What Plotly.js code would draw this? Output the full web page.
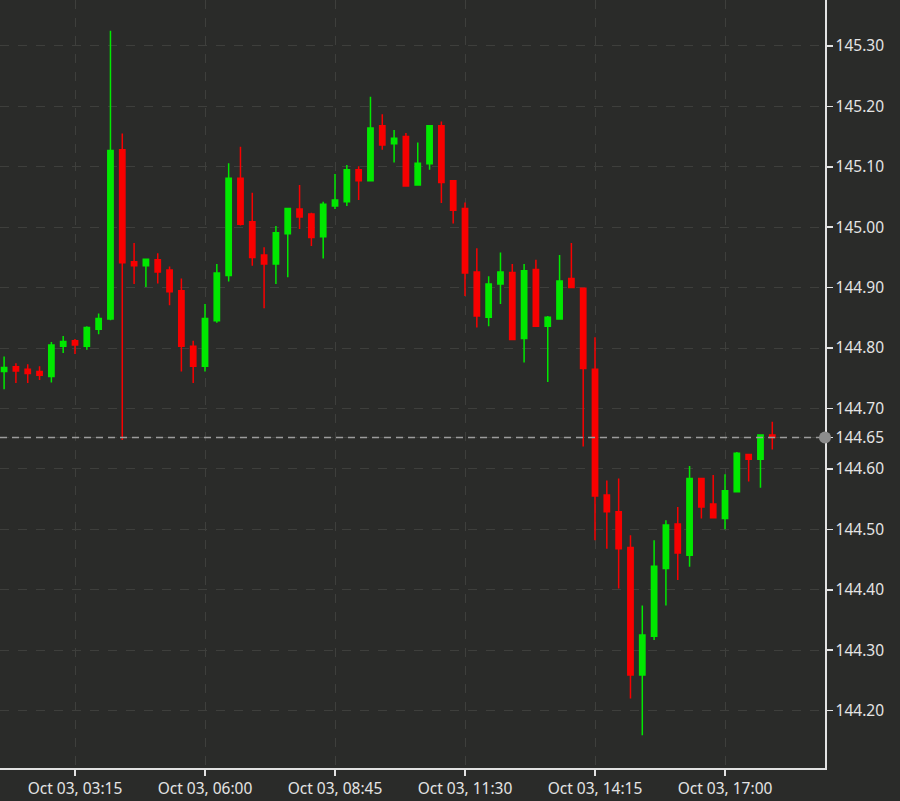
<!DOCTYPE html>
<html>
<head>
<meta charset="utf-8">
<script src="https://cdn.plot.ly/plotly-3.0.1.min.js"></script>
<style>
html,body{margin:0;padding:0;background:#2a2b29;}
#chart{width:900px;height:801px;}
</style>
</head>
<body>
<div id="chart"></div>
<script>
const times = [
 '2024-10-03 01:45','2024-10-03 02:00','2024-10-03 02:15','2024-10-03 02:30','2024-10-03 02:45','2024-10-03 03:00',
 '2024-10-03 03:15','2024-10-03 03:30','2024-10-03 03:45','2024-10-03 04:00','2024-10-03 04:15','2024-10-03 04:30',
 '2024-10-03 04:45','2024-10-03 05:00','2024-10-03 05:15','2024-10-03 05:30','2024-10-03 05:45','2024-10-03 06:00',
 '2024-10-03 06:15','2024-10-03 06:30','2024-10-03 06:45','2024-10-03 07:00','2024-10-03 07:15','2024-10-03 07:30',
 '2024-10-03 07:45','2024-10-03 08:00','2024-10-03 08:15','2024-10-03 08:30','2024-10-03 08:45','2024-10-03 09:00',
 '2024-10-03 09:15','2024-10-03 09:30','2024-10-03 09:45','2024-10-03 10:00','2024-10-03 10:15','2024-10-03 10:30',
 '2024-10-03 10:45','2024-10-03 11:00','2024-10-03 11:15','2024-10-03 11:30','2024-10-03 11:45','2024-10-03 12:00',
 '2024-10-03 12:15','2024-10-03 12:30','2024-10-03 12:45','2024-10-03 13:00','2024-10-03 13:15','2024-10-03 13:30',
 '2024-10-03 13:45','2024-10-03 14:00','2024-10-03 14:15','2024-10-03 14:30','2024-10-03 14:45','2024-10-03 15:00',
 '2024-10-03 15:15','2024-10-03 15:30','2024-10-03 15:45','2024-10-03 16:00','2024-10-03 16:15','2024-10-03 16:30',
 '2024-10-03 16:45','2024-10-03 17:00','2024-10-03 17:15','2024-10-03 17:30','2024-10-03 17:45','2024-10-03 18:00'
];
const openP = [
 144.761,144.769,144.765,144.761,144.753,144.803,144.812,144.803,144.831,144.848,145.128,144.943,
 144.936,144.946,144.929,144.895,144.803,144.770,144.845,144.920,145.081,145.009,144.954,144.939,
 144.989,145.030,145.022,144.984,145.035,145.042,145.095,145.077,145.168,145.138,145.150,145.070,
 145.105,145.168,145.077,145.031,144.926,144.851,144.906,144.925,144.816,144.930,144.836,144.848,
 144.915,144.899,144.765,144.557,144.529,144.470,144.259,144.323,144.435,144.509,144.457,144.584,
 144.542,144.518,144.562,144.624,144.616,144.656
];
const highP = [
 144.786,144.775,144.773,144.770,144.810,144.820,144.815,144.836,144.857,145.325,145.155,144.974,
 144.948,144.957,144.935,144.915,144.812,144.873,144.939,145.106,145.133,145.057,144.967,145.002,
 145.032,145.070,145.024,145.042,145.088,145.103,145.101,145.216,145.187,145.161,145.156,145.140,
 145.169,145.175,145.078,145.041,144.965,144.919,144.958,144.939,144.939,144.946,144.853,144.954,
 144.974,144.900,144.818,144.581,144.584,144.490,144.374,144.482,144.515,144.537,144.605,144.585,
 144.590,144.591,144.628,144.625,144.657,144.678
];
const lowP = [
 144.732,144.742,144.742,144.747,144.743,144.792,144.790,144.797,144.823,144.846,144.648,144.906,
 144.901,144.907,144.871,144.761,144.742,144.761,144.842,144.910,145.003,144.936,144.866,144.906,
 144.917,144.997,144.969,144.948,145.030,145.035,145.045,145.076,145.128,145.107,145.068,145.069,
 145.095,145.040,145.006,144.886,144.834,144.836,144.873,144.813,144.776,144.835,144.744,144.847,
 144.899,144.637,144.482,144.468,144.402,144.220,144.159,144.317,144.374,144.416,144.438,144.518,
 144.518,144.500,144.561,144.579,144.569,144.632
];
const closeP = [
 144.768,144.762,144.758,144.755,144.805,144.811,144.805,144.834,144.849,145.127,144.941,144.936,
 144.947,144.926,144.893,144.803,144.770,144.849,144.924,145.081,145.005,144.950,144.939,144.991,
 145.031,145.017,144.983,145.038,145.045,145.095,145.077,145.164,145.136,145.147,145.068,145.106,
 145.168,145.074,145.028,144.924,144.853,144.906,144.926,144.814,144.928,144.836,144.851,144.911,
 144.900,144.766,144.555,144.529,144.468,144.259,144.325,144.439,144.507,144.461,144.584,144.537,
 144.519,144.564,144.626,144.616,144.656,144.652
];
const priceTicks = [144.2,144.3,144.4,144.5,144.6,144.7,144.8,144.9,145.0,145.1,145.2,145.3];
const xTickStart = '2024-10-03 03:15';
const xTickStepMs = 165 * 60 * 1000;
const xRange = ['2024-10-03 01:39:48','2024-10-03 19:06:54'];
const yRange = [144.105, 145.376];

const lastClose = closeP[closeP.length - 1];
const bg = '#2a2b29';
const gridCol = '#3e3f3c';
const axisCol = '#e2e2e2';
const fontCfg = {family: '"Noto Sans", "Open Sans", sans-serif', size: 15.5, color: '#e4e4e4'};

const trace = {
  type: 'candlestick',
  x: times, open: openP, high: highP, low: lowP, close: closeP,
  increasing: {line: {color: '#00e800', width: 1.5}, fillcolor: '#00e800'},
  decreasing: {line: {color: '#f80000', width: 1.5}, fillcolor: '#f80000'},
  whiskerwidth: 0,
  hoverinfo: 'skip',
  showlegend: false
};

const layout = {
  width: 900, height: 801,
  margin: {l: 0, r: 75, t: 0, b: 33, pad: 0},
  paper_bgcolor: bg, plot_bgcolor: bg,
  font: fontCfg,
  boxgap: 0.36,
  showlegend: false,
  xaxis: {
    type: 'date', range: xRange,
    rangeslider: {visible: false},
    tick0: xTickStart, dtick: xTickStepMs, tickmode: 'linear',
    tickformat: '%b %d, %H:%M',
    ticks: 'outside', ticklen: 6, tickwidth: 1.5, tickcolor: axisCol,
    showline: true, linecolor: axisCol, linewidth: 1.5,
    showgrid: true, gridcolor: gridCol, griddash: 'dash', gridwidth: 1,
    zeroline: false, fixedrange: true, tickfont: fontCfg
  },
  yaxis: {
    side: 'right', range: yRange,
    tickmode: 'array', tickvals: priceTicks.concat([lastClose]), tickformat: '.2f',
    ticks: 'outside', ticklen: 6, tickwidth: 1.5, tickcolor: axisCol,
    showline: true, linecolor: axisCol, linewidth: 1.5,
    showgrid: true, gridcolor: gridCol, griddash: 'dash', gridwidth: 1,
    zeroline: false, fixedrange: true, tickfont: fontCfg
  },
  shapes: [
    {type: 'line', xref: 'paper', yref: 'y', x0: 0, x1: 1, y0: lastClose, y1: lastClose,
     line: {color: '#9c9c9c', width: 1.3, dash: '7px,5px'}, layer: 'above'},
    {type: 'circle', xref: 'paper', yref: 'y', xsizemode: 'pixel', ysizemode: 'pixel',
     xanchor: 1, yanchor: lastClose, x0: -6, x1: 6, y0: -6, y1: 6,
     fillcolor: '#8c8c8c', line: {color: '#8c8c8c', width: 0}, layer: 'above'}
  ]
};

Plotly.newPlot('chart', [trace], layout, {displayModeBar: false, staticPlot: true});
</script>
</body>
</html>
